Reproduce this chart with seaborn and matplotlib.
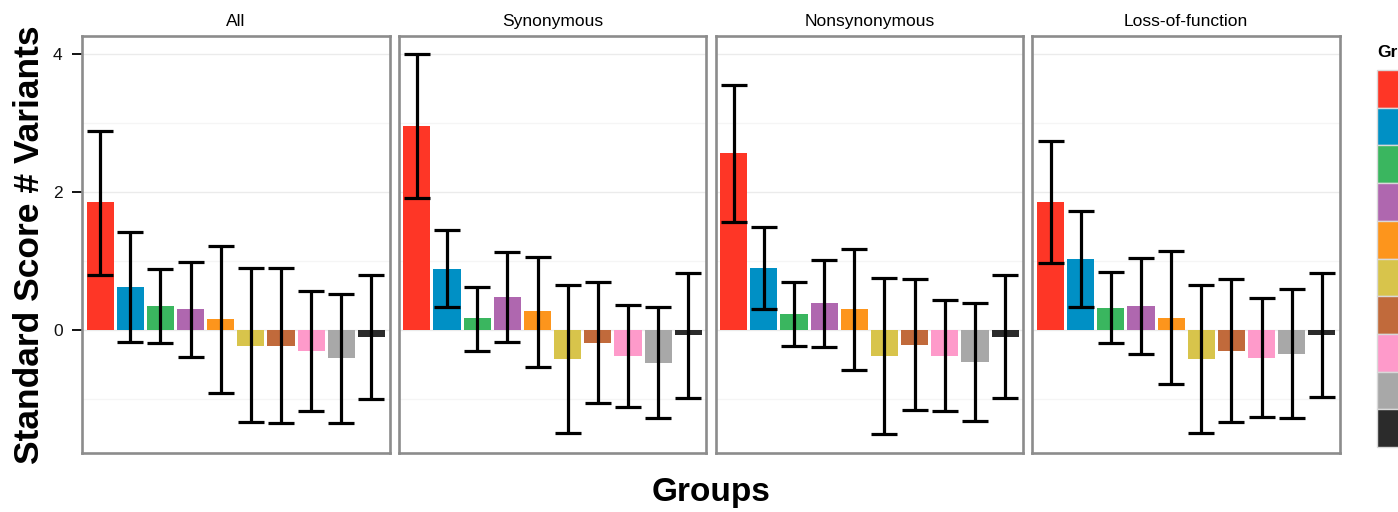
import numpy as np
import matplotlib
matplotlib.use("Agg")
import matplotlib.pyplot as plt
import matplotlib.patches as mpatches
import seaborn as sns
import pandas as pd

# Values
categories = ["All", "Synonymous", "Nonsynonymous", "Loss-of-function"]
groups = ["Group %d" % i for i in range(1, 11)]
colors = ["#FE3626", "#0090C5", "#3AB65F", "#AF67AF", "#FD951C",
          "#D8C44B", "#C16A3B", "#FE9ACA", "#A8A8A8", "#2B2B2B"]

all_mean = [1.85, 0.62, 0.35, 0.30, 0.155, -0.23, -0.23, -0.30, -0.41, -0.10]
all_lo = [0.80, -0.17, -0.18, -0.39, -0.91, -1.33, -1.34, -1.17, -1.35, -1.00]
all_hi = [2.88, 1.415, 0.88, 0.99, 1.22, 0.90, 0.90, 0.565, 0.53, 0.80]

syn_mean = [2.96, 0.89, 0.175, 0.48, 0.27, -0.42, -0.18, -0.37, -0.48, -0.07]
syn_lo = [1.91, 0.33, -0.30, -0.165, -0.53, -1.49, -1.06, -1.11, -1.28, -0.985]
syn_hi = [4.0, 1.45, 0.63, 1.125, 1.06, 0.65, 0.69, 0.37, 0.33, 0.83]

nonsyn_mean = [2.56, 0.90, 0.23, 0.39, 0.30, -0.37, -0.21, -0.37, -0.46, -0.10]
nonsyn_lo = [1.57, 0.30, -0.23, -0.25, -0.575, -1.51, -1.16, -1.17, -1.31, -0.99]
nonsyn_hi = [3.55, 1.50, 0.70, 1.02, 1.17, 0.76, 0.74, 0.435, 0.39, 0.80]

lof_mean = [1.85, 1.03, 0.32, 0.35, 0.18, -0.415, -0.30, -0.40, -0.35, -0.07]
lof_lo = [0.97, 0.34, -0.18, -0.35, -0.78, -1.49, -1.33, -1.26, -1.28, -0.97]
lof_hi = [2.74, 1.73, 0.84, 1.05, 1.145, 0.66, 0.745, 0.47, 0.59, 0.82]

means = [all_mean, syn_mean, nonsyn_mean, lof_mean]
lows = [all_lo, syn_lo, nonsyn_lo, lof_lo]
highs = [all_hi, syn_hi, nonsyn_hi, lof_hi]

# Long table for seaborn
rows = []
for cat, m, lo, hi in zip(categories, means, lows, highs):
    for g, v, l, h in zip(groups, m, lo, hi):
        rows.append({"category": cat, "group": g, "score": v, "lo": l, "hi": h})
df = pd.DataFrame(rows)

sns.set_theme(style="white")
plt.rcParams["font.family"] = ["Liberation Sans", "DejaVu Sans"]
plt.rcParams["text.color"] = "black"

fig, axes = plt.subplots(1, 4, figsize=(13.98, 5.12), dpi=100, sharey=True)
fig.subplots_adjust(left=82 / 1398, right=1340 / 1398, top=1 - 36 / 512,
                    bottom=1 - 453 / 512, wspace=0.03)

palette = dict(zip(groups, colors))

for i, (ax, cat) in enumerate(zip(axes, categories)):
    sub = df[df["category"] == cat]
    sns.barplot(data=sub, x="group", y="score", hue="group", palette=palette,
                order=groups, hue_order=groups, width=0.9, saturation=1,
                errorbar=None, legend=False, linewidth=0, ax=ax)
    ax.errorbar(np.arange(len(groups)), sub["score"],
                yerr=[sub["score"] - sub["lo"], sub["hi"] - sub["score"]],
                fmt="none", ecolor="black", elinewidth=2.3, capsize=9.7,
                capthick=2.3, zorder=3)

    ax.set_xlim(-0.6, 9.6)
    ax.set_ylim(-1.78, 4.26)
    ax.set_yticks([0, 2, 4])
    ax.set_yticks([-1, 1, 3], minor=True)
    ax.grid(True, axis="y", which="major", color="#EBEBEB", linewidth=1)
    ax.grid(True, axis="y", which="minor", color="#F5F5F5", linewidth=1)
    ax.set_axisbelow(True)
    ax.set_xticks([])
    ax.set_xlabel("")
    ax.set_ylabel("")
    ax.set_title(cat, fontsize=12.5, pad=7, color="black")
    for s in ax.spines.values():
        s.set_color("#8C8C8C")
        s.set_linewidth(1.9)
    ax.tick_params(axis="y", which="minor", length=0)
    if i == 0:
        ax.tick_params(axis="y", which="major", left=True, length=7, width=1.4,
                       color="#111111", labelsize=12.5, labelcolor="#111111", pad=7)
    else:
        ax.tick_params(axis="y", which="major", left=False, labelleft=False)

fig.text(0.021, 0.523, "Standard Score # Variants", rotation=90, ha="center",
         va="center", fontsize=25.5, fontweight="bold")
fig.text(0.5086, 0.038, "Groups", ha="center", va="center", fontsize=24,
         fontweight="bold")

# Legend, cut off at the right edge like the original
fig.text(1377 / 1398, 1 - 52 / 512, "Groups", ha="left", va="center",
         fontsize=12.5, fontweight="bold")
handles = [mpatches.Patch(facecolor=c, edgecolor="#D9D9D9", linewidth=1)
           for c in colors]
leg = fig.legend(handles, groups, loc="upper left",
                 bbox_to_anchor=(1377 / 1398, 1 - 70 / 512), frameon=False,
                 borderpad=0, borderaxespad=0, labelspacing=0, handletextpad=0.5,
                 handlelength=3.8, handleheight=3.8, fontsize=10)

fig.savefig("out.png", dpi=100)
